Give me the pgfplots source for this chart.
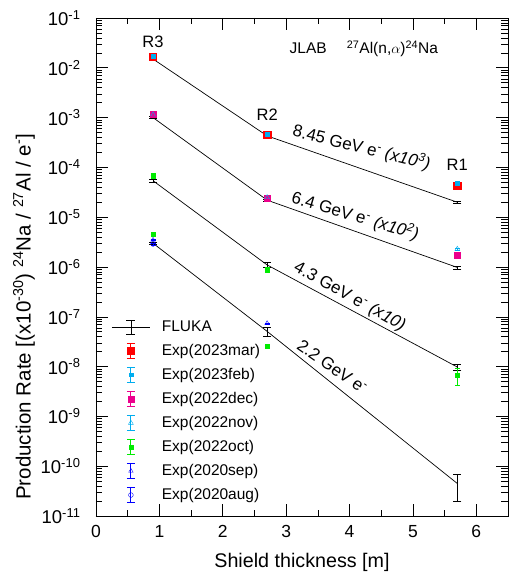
\documentclass[border=0pt]{standalone}
\usepackage{pgfplots}
\pgfplotsset{compat=1.18}
\usepackage{fontspec}
\setmainfont{Liberation Sans}

\definecolor{rgreen}{RGB}{0,235,0}

\pgfplotsset{
  fluka/.style={black, line width=0.7pt, mark=none,
    error bars/.cd, y dir=both, y explicit,
    error bar style={line width=0.7pt},
    error mark options={rotate=90, mark size=4pt, line width=0.7pt},
    /pgfplots/.cd},
  expt/.style={only marks,
    error bars/.cd, y dir=both, y explicit,
    error bar style={line width=0.6pt},
    error mark options={rotate=90, mark size=2.5pt},
    /pgfplots/.cd},
  explegend/.style={legend image code/.code={
    \path[draw=none] (0pt,0pt) -- (48pt,0pt);
    \draw[draw=#1, line width=0.9pt] (19pt,-7.5pt)--(19pt,7.5pt) (15pt,7.5pt)--(23pt,7.5pt) (15pt,-7.5pt)--(23pt,-7.5pt);
    \draw[mark repeat=1,##1] plot coordinates {(19pt,0pt)};}},
}

\begin{document}
\begin{tikzpicture}
\begin{axis}[
  scale only axis,
  width=412pt, height=498pt,
  xmin=0, xmax=6.5,
  ymode=log, ymin=1e-11, ymax=1e-1,
  xtick={0,1,2,3,4,5,6},
  xticklabels={0,1,2,3,4,5,6},
  minor x tick num=1,
  ytick={1e-11,1e-10,1e-9,1e-8,1e-7,1e-6,1e-5,1e-4,1e-3,1e-2,1e-1},
  yticklabels={10\textsuperscript{-11},10\textsuperscript{-10},10\textsuperscript{-9},10\textsuperscript{-8},10\textsuperscript{-7},10\textsuperscript{-6},10\textsuperscript{-5},10\textsuperscript{-4},10\textsuperscript{-3},10\textsuperscript{-2},10\textsuperscript{-1}},
  tick align=inside, tick pos=both,
  major tick length=12pt, minor tick length=6.5pt,
  tick style={line width=0.6pt, black},
  axis line style={line width=0.8pt},
  xticklabel style={font=\fontsize{17.5}{19}\selectfont, yshift=-6pt},
  yticklabel style={font=\fontsize{18.5}{20}\selectfont, xshift=-12pt},
  xlabel={Shield thickness [m]},
  xlabel style={font=\fontsize{19.7}{22}\selectfont, at={(rel axis cs:0.5,-0.094)}, anchor=center},
  ylabel={Production Rate [(x10\textsuperscript{-30}) \textsuperscript{24}Na / \textsuperscript{27}Al / e\textsuperscript{-}]},
  ylabel style={font=\fontsize{20.5}{22}\selectfont, at={(rel axis cs:-0.175,0.40)}, anchor=center},
  legend style={draw=none, fill=none, at={(rel axis cs:0.03,0.40)}, anchor=north west,
    font=\fontsize{15.5}{17}\selectfont, row sep=7.3pt, cells={anchor=west}},
  legend cell align=left,
]
% ---- FLUKA ----
\addplot[fluka, legend image code/.code={
    \path[draw=none] (0pt,0pt) -- (48pt,0pt);
    \draw[line width=0.7pt] (0pt,0pt)--(38pt,0pt);
    \draw[line width=0.7pt] (19pt,-7pt)--(19pt,7pt) (14.5pt,7pt)--(23.5pt,7pt) (14.5pt,-7pt)--(23.5pt,-7pt);}]
  coordinates {(0.9,1.5e-2) +- (0,0.05e-2) (2.7,4.3e-4) +- (0,0.15e-4) (5.7,2.0e-5) +- (0,0.08e-5)};
\addlegendentry{FLUKA}
\addplot[fluka, forget plot]
  coordinates {(0.9,1.0e-3) +- (0,0.04e-3) (2.7,2.2e-5) +- (0,0.08e-5) (5.7,9.8e-7) +- (0,0.7e-7)};
\addplot[fluka, forget plot]
  coordinates {(0.9,5.4e-5) +- (0,0.3e-5) (2.7,1.1e-6) +- (0,0.12e-6) (5.7,9.8e-9) +- (0,1.5e-9)};
\addplot[fluka, forget plot]
  coordinates {(0.9,3.0e-6) +- (0,0.15e-6) (2.7,5.1e-8) +- (0,1.0e-8) (5.7,4.5e-11) +- (0,2.5e-11)};

% ---- experiments ----
\addplot[expt, explegend=red, red, mark=square*, mark size=3.6pt]
  coordinates {(0.9,1.65e-2) +- (0,0.08e-2) (2.7,4.5e-4) +- (0,0.2e-4) (5.7,4.3e-5) +- (0,0.2e-5)};
\addlegendentry{Exp(2023mar)}
\addplot[expt, explegend=cyan, cyan, mark=square*, mark size=1.8pt]
  coordinates {(0.9,1.7e-2) +- (0,0.05e-2) (2.7,4.6e-4) +- (0,0.1e-4) (5.7,4.8e-5) +- (0,0.1e-5)};
\addlegendentry{Exp(2023feb)}
\addplot[expt, explegend=magenta, magenta, mark=square*, mark size=3pt]
  coordinates {(0.9,1.15e-3) +- (0,0.05e-3) (2.7,2.4e-5) +- (0,0.1e-5) (5.7,1.7e-6) +- (0,0.08e-6)};
\addlegendentry{Exp(2022dec)}
\addplot[expt, explegend=cyan, cyan, mark=triangle, mark size=2.8pt]
  coordinates {(0.9,1.15e-3) +- (0,0.03e-3) (2.7,2.5e-5) +- (0,0.05e-5) (5.7,2.3e-6) +- (0,0.08e-6)};
\addlegendentry{Exp(2022nov)}
\addplot[expt, explegend=rgreen, rgreen, mark=square*, mark size=2.2pt]
  coordinates {(0.9,6.8e-5) +- (0,0.2e-5) (2.7,8.9e-7) +- (0,0.3e-7) (5.7,6.8e-9) +- (0,2.5e-9)
               (0.9,4.5e-6) +- (0,0.1e-6) (2.7,2.6e-8) +- (0,0.1e-8)};
\addlegendentry{Exp(2022oct)}
\addplot[expt, explegend=blue, blue, mark=triangle, mark size=2.6pt]
  coordinates {(0.9,3.5e-6) +- (0,0.1e-6) (2.7,7.4e-8) +- (0,0.2e-8)};
\addlegendentry{Exp(2020sep)}
\addplot[expt, explegend=blue, blue, mark=o, mark size=2.4pt]
  coordinates {(0.9,2.9e-6) +- (0,0.1e-6)};
\addlegendentry{Exp(2020aug)}

% ---- labels ----
\node[anchor=south, font=\fontsize{16.5}{18}\selectfont] at (axis cs:0.9,2.2e-2) {R3};
\node[anchor=south, font=\fontsize{16.5}{18}\selectfont] at (axis cs:2.7,7.5e-4) {R2};
\node[anchor=south, font=\fontsize{16.5}{18}\selectfont] at (axis cs:5.7,7.5e-5) {R1};
\node[anchor=west, font=\fontsize{15.5}{17}\selectfont] at (axis cs:3.0,2.4e-2)
  {JLAB\hspace{1.3em}\textsuperscript{27}Al(n,$\alpha$)\textsuperscript{24}Na};
\node[rotate=-14, font=\fontsize{17}{19}\selectfont] at (axis cs:4.19,2.5e-4)
  {8.45 GeV e\textsuperscript{-} \textit{(x10\textsuperscript{3})}};
\node[rotate=-16.5, font=\fontsize{17}{19}\selectfont] at (axis cs:4.09,1.05e-5)
  {6.4 GeV e\textsuperscript{-} \textit{(x10\textsuperscript{2})}};
\node[rotate=-29, font=\fontsize{17}{19}\selectfont] at (axis cs:4.0,2.5e-7)
  {4.3 GeV e\textsuperscript{-} \textit{(x10)}};
\node[rotate=-35, font=\fontsize{17}{19}\selectfont] at (axis cs:3.73,1.0e-8)
  {2.2 GeV e\textsuperscript{-}};

\coordinate (ll) at (rel axis cs:0,0);
\coordinate (ur) at (rel axis cs:1,1);
\end{axis}
\pgfresetboundingbox
\path ([shift={(-96pt,-57pt)}]ll) rectangle ([shift={(3pt,18pt)}]ur);
\end{tikzpicture}
\end{document}
